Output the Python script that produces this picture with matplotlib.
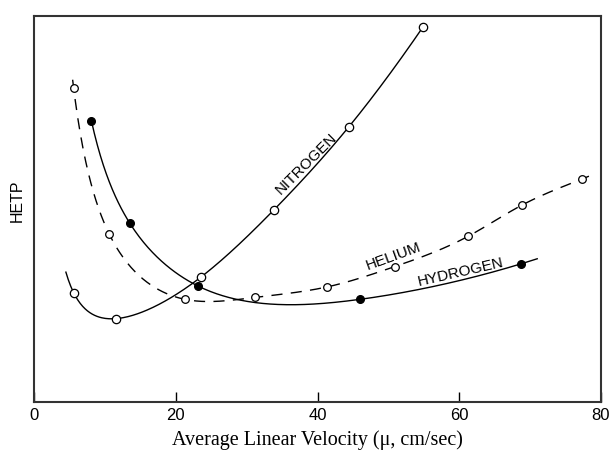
import numpy as np
import matplotlib.pyplot as plt

# velocity (cm/sec) and HETP (arbitrary units, no scale shown on the chart)
nitrogen_u = [5.6, 11.6, 23.5, 33.9, 44.4, 54.9]
nitrogen_h = [0.282, 0.215, 0.322, 0.498, 0.712, 0.972]

hydrogen_u = [8.1, 13.5, 23.2, 46.0, 68.7]
hydrogen_h = [0.728, 0.463, 0.299, 0.265, 0.357]

helium_u = [5.6, 10.6, 21.3, 31.2, 41.3, 50.9, 61.3, 68.8, 77.3]
helium_h = [0.812, 0.435, 0.265, 0.270, 0.297, 0.350, 0.429, 0.509, 0.577]

x_ticks = [0, 20, 40, 60, 80]


def spline(x, y, xs):
    # natural cubic spline, end segments continued a little past the data
    n = len(x)
    h = np.diff(x)
    A = np.zeros((n, n))
    r = np.zeros(n)
    A[0, 0] = A[-1, -1] = 1
    for i in range(1, n - 1):
        A[i, i - 1] = h[i - 1]
        A[i, i] = 2 * (h[i - 1] + h[i])
        A[i, i + 1] = h[i]
        r[i] = 3 * ((y[i + 1] - y[i]) / h[i] - (y[i] - y[i - 1]) / h[i - 1])
    c = np.linalg.solve(A, r)
    b = (y[1:] - y[:-1]) / h - h * (2 * c[:-1] + c[1:]) / 3
    d = (c[1:] - c[:-1]) / (3 * h)
    k = np.clip(np.searchsorted(x, xs) - 1, 0, n - 2)
    t = xs - x[k]
    return y[k] + b[k] * t + c[k] * t ** 2 + d[k] * t ** 3


def vd_curve(u, h, xs):
    # van Deemter style fit A + B/u + C*u + D*u^2, then bent through the points
    u = np.asarray(u, float)
    h = np.asarray(h, float)
    basis = lambda v: np.column_stack([np.ones_like(v), 1 / v, v, v ** 2])
    coef, *_ = np.linalg.lstsq(basis(u), h, rcond=None)
    resid = h - basis(u) @ coef
    return basis(xs) @ coef + spline(u, resid, xs)


fig = plt.figure(figsize=(6.13, 4.6), dpi=100)
ax = fig.add_axes([34 / 613, 1 - 402.5 / 460, 567 / 613, 385.5 / 460])

sans = ['Liberation Sans', 'DejaVu Sans']

xs = np.linspace(4.5, max(nitrogen_u), 300)
ax.plot(xs, vd_curve(nitrogen_u, nitrogen_h, xs), color='black', lw=1)
ax.plot(nitrogen_u, nitrogen_h, 'o', ms=6, mfc='white', mec='black', mew=0.9)

xs = np.linspace(min(hydrogen_u), 71.0, 300)
ax.plot(xs, vd_curve(hydrogen_u, hydrogen_h, xs), color='black', lw=1)
ax.plot(hydrogen_u, hydrogen_h, 'o', ms=5.5, mfc='black', mec='black')

xs = np.linspace(5.45, 78.8, 400)
ax.plot(xs, vd_curve(helium_u, helium_h, xs), color='black', lw=1,
        dashes=(8, 6))
ax.plot(helium_u, helium_h, 'o', ms=5.5, mfc='white', mec='black', mew=0.9)

ax.text(38.4, 0.619, 'NITROGEN', rotation=45, ha='center', va='center',
        rotation_mode='anchor', fontsize=11, family=sans)
ax.text(50.65, 0.378, 'HELIUM', rotation=20, ha='center', va='center',
        rotation_mode='anchor', fontsize=11, family=sans)
ax.text(60.25, 0.339, 'HYDROGEN', rotation=13, ha='center', va='center',
        rotation_mode='anchor', fontsize=11, family=sans)

ax.set_xlim(0, 80)
ax.set_ylim(0, 1)
ax.set_xticks(x_ticks)
ax.set_yticks([])
ax.tick_params(axis='x', direction='in', length=7, width=1, pad=4, labelsize=12)
for lab in ax.get_xticklabels():
    lab.set_family(sans)
for s in ax.spines.values():
    s.set_linewidth(1.5)
    s.set_color('#333333')

ax.text(-0.029, 0.523, 'HETP', transform=ax.transAxes, rotation=90,
        ha='center', va='center', fontsize=11.5,
        family=['Liberation Sans Narrow', 'Liberation Sans', 'DejaVu Sans'])

fig.text(317.5 / 613, 1 - 445 / 460, 'Average Linear Velocity (\u03bc, cm/sec)',
         ha='center', va='baseline', fontsize=14.5,
         family=['Liberation Serif', 'DejaVu Serif'])

fig.savefig('out.png', dpi=100)
